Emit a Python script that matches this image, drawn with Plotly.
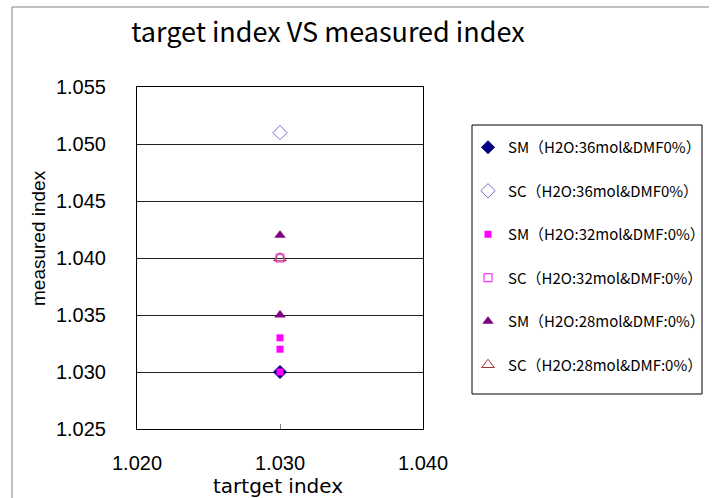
import plotly.graph_objects as go

target = 1.030
series_names = [
    "SM（H2O:36mol&DMF0%）",
    "SC（H2O:36mol&DMF0%）",
    "SM（H2O:32mol&DMF:0%）",
    "SC（H2O:32mol&DMF:0%）",
    "SM（H2O:28mol&DMF:0%）",
    "SC（H2O:28mol&DMF:0%）",
]
sm36 = [1.030]
sc36 = [1.051]
sm32 = [1.030, 1.032, 1.033]
sc32 = [1.040]
sm28 = [1.042, 1.035]
sc28 = [1.040]
series_values = [sm36, sc36, sm32, sc32, sm28, sc28]

x_ticks = [1.020, 1.030, 1.040]
y_ticks = [1.025, 1.030, 1.035, 1.040, 1.045, 1.050, 1.055]

styles = [
    dict(symbol="diamond", size=10, color="#000080", line=dict(color="#000080", width=1)),
    dict(symbol="diamond-open", size=11, color="#7070c8", line=dict(color="#7070c8", width=1)),
    dict(symbol="square", size=7, color="#ff00ff", line=dict(color="#ff00ff", width=0)),
    dict(symbol="square-open", size=8, color="#ff00ff", line=dict(color="#ff00ff", width=1)),
    dict(symbol="triangle-up", size=10, color="#800080", line=dict(color="#800080", width=0)),
    dict(symbol="triangle-up-open", size=11, color="#a03030", line=dict(color="#a03030", width=1)),
]

GF = "Noto Sans CJK JP"
L, R, T, B = 137, 423, 87, 429
PW, PH = R - L, B - T


def px(x):
    return (x - L) / PW


def py(y):
    return (B - y) / PH


fig = go.Figure()
for i, (name, vals) in enumerate(zip(series_names, series_values)):
    fig.add_trace(go.Scatter(
        x=[target] * len(vals), y=vals, mode="markers", name=name,
        legendgroup=f"g{i}", marker=styles[i],
    ))

fig.update_layout(
    width=714, height=498,
    margin=dict(l=L, r=714 - R, t=T, b=498 - B, autoexpand=False),
    paper_bgcolor="white", plot_bgcolor="white",
    title=dict(text="target index VS measured index", x=328 / 714, xanchor="center",
               y=1 - 33 / 498, yanchor="middle",
               font=dict(family=GF, size=27, color="black")),
    xaxis=dict(range=[1.020, 1.040], tickvals=x_ticks, tickformat=".3f", automargin=False,
               showgrid=False, zeroline=False, showline=True, linecolor="black", mirror=True,
               ticks="inside", ticklen=5, tickcolor="#808080", ticklabelstandoff=16,
               tickfont=dict(family="Liberation Sans", size=20, color="black")),
    yaxis=dict(range=[1.025, 1.055], tickvals=y_ticks, tickformat=".3f", automargin=False,
               showgrid=True, gridcolor="#222222", gridwidth=1, zeroline=False,
               showline=True, linecolor="black", mirror=True, ticks="", ticklabelstandoff=26,
               tickfont=dict(family="Liberation Sans", size=20, color="black")),
    legend=dict(x=px(468), y=py(131), xanchor="left", yanchor="top",
                borderwidth=0, bgcolor="rgba(0,0,0,0)",
                font=dict(family=GF, size=15, color="black"), tracegroupgap=21,
                itemwidth=30),
    annotations=[
        dict(text="measured index", textangle=-90, xref="paper", yref="paper",
             x=px(38), y=py(238), xanchor="center", yanchor="middle", showarrow=False,
             font=dict(family="Liberation Sans", size=19, color="black")),
        dict(text="tartget index", xref="paper", yref="paper",
             x=px(278), y=py(486), xanchor="center", yanchor="middle", showarrow=False,
             font=dict(family="DejaVu Sans", size=20, color="black")),
    ],
    shapes=[
        dict(type="rect", xref="paper", yref="paper", x0=px(472), x1=px(702),
             y0=py(394), y1=py(125), line=dict(color="black", width=1), layer="below"),
        dict(type="line", xref="paper", yref="paper", x0=px(12), x1=px(12),
             y0=py(7), y1=-0.5, line=dict(color="#808080", width=1)),
        dict(type="line", xref="paper", yref="paper", x0=px(12), x1=2.0,
             y0=py(7), y1=py(7), line=dict(color="#808080", width=1)),
    ],
)
fig.write_html("out.html")
